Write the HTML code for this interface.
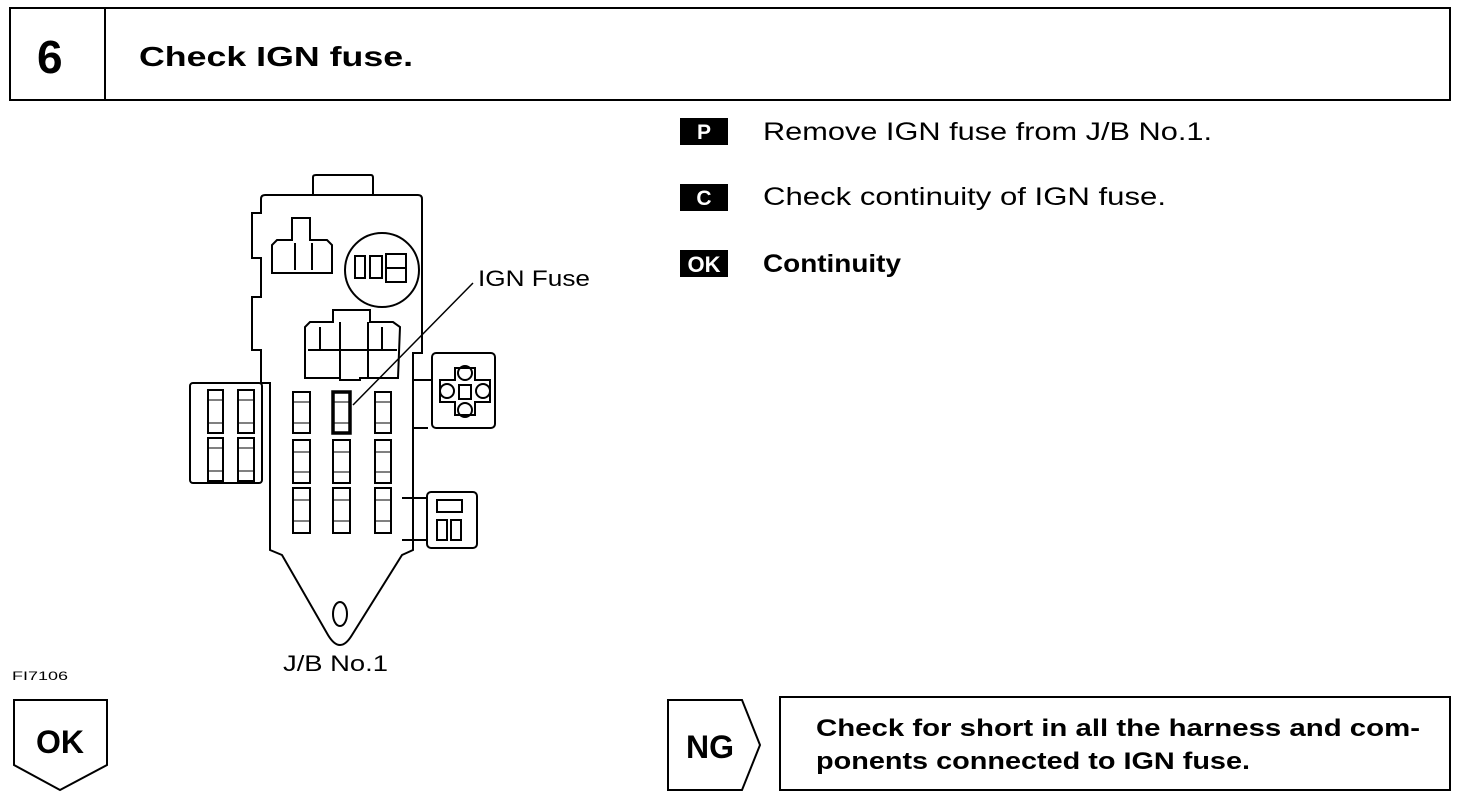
<!DOCTYPE html>
<html><head><meta charset="utf-8"><style>
body{margin:0;background:#fff;}
svg{display:block;font-family:"Liberation Sans",Arial,sans-serif;}
</style></head><body>
<svg width="1472" height="798" viewBox="0 0 1472 798" xmlns="http://www.w3.org/2000/svg">
<g fill="none" stroke="#000" stroke-width="2">
<rect x="10" y="8" width="1440" height="92"/>
<line x1="105" y1="8" x2="105" y2="100"/>
</g>
<text x="37" y="73" font-size="46" font-weight="bold">6</text>
<text x="139" y="66" font-size="28" font-weight="bold" textLength="274" lengthAdjust="spacingAndGlyphs">Check IGN fuse.</text>

<rect x="680" y="118" width="48" height="27" fill="#000"/>
<text x="704" y="139" font-size="21" fill="#fff" text-anchor="middle" font-weight="bold">P</text>
<rect x="680" y="184" width="48" height="27" fill="#000"/>
<text x="704" y="205" font-size="21" fill="#fff" text-anchor="middle" font-weight="bold">C</text>
<rect x="680" y="250" width="48" height="27" fill="#000"/>
<text x="704" y="272" font-size="22" fill="#fff" text-anchor="middle" font-weight="bold">OK</text>
<text x="763" y="140" font-size="25" textLength="449" lengthAdjust="spacingAndGlyphs">Remove IGN fuse from J/B No.1.</text>
<text x="763" y="205" font-size="25" textLength="403" lengthAdjust="spacingAndGlyphs">Check continuity of IGN fuse.</text>
<text x="763" y="272" font-size="25" font-weight="bold" textLength="138" lengthAdjust="spacingAndGlyphs">Continuity</text>

<g fill="none" stroke="#000" stroke-width="2">
<path d="M313,195 L313,177 Q313,175 316,175 L371,175 Q373,175 373,178 L373,195"/>
<path d="M265,195 L418,195 Q422,195 422,199 L422,353 L413,353 L413,550 L402,555 L352,635 Q340,655 328,635 L282,555 L270,550 L270,383 L261,383 L261,350 L252,350 L252,297 L261,297 L261,258 L252,258 L252,213 L261,213 L261,199 Q261,195 265,195 Z"/>
<rect x="190" y="383" width="72" height="100" rx="3"/>
<circle cx="382" cy="270" r="37"/>
<rect x="355" y="256" width="10" height="22"/><rect x="370" y="256" width="12" height="22"/><rect x="386" y="254" width="20" height="28"/>
<line x1="386" y1="268" x2="406" y2="268"/>
<path d="M272,245 L272,273 L332,273 L332,245 L327,240 L310,240 L310,218 L292,218 L292,240 L277,240 Z"/>
<line x1="295" y1="243" x2="295" y2="270"/><line x1="312" y1="243" x2="312" y2="270"/>
<path d="M305,327 L305,378 L340,378 L340,380 L360,380 L360,378 L398,378 L400,327 L393,322 L370,322 L370,310 L333,310 L333,322 L310,322 Z"/>
<line x1="308" y1="350" x2="397" y2="350"/><line x1="340" y1="322" x2="340" y2="378"/><line x1="368" y1="322" x2="368" y2="378"/>
<line x1="320" y1="327" x2="320" y2="350"/><line x1="382" y1="327" x2="382" y2="350"/>
<path d="M413,380 L432,380 M413,428 L428,428"/>
<rect x="432" y="353" width="63" height="75" rx="4"/>
<path d="M455,368 L455,380 L440,380 L440,402 L455,402 L455,415 L475,415 L475,402 L490,402 L490,380 L475,380 L475,368 Z"/>
<circle cx="465" cy="373" r="7"/><circle cx="447" cy="391" r="7"/><circle cx="483" cy="391" r="7"/><circle cx="465" cy="410" r="7"/>
<rect x="459" y="385" width="12" height="14"/>
<path d="M402,498 L427,498 M402,540 L427,540"/>
<rect x="427" y="492" width="50" height="56" rx="4"/>
<rect x="437" y="500" width="25" height="12"/><rect x="437" y="520" width="10" height="20"/><rect x="451" y="520" width="10" height="20"/>
<ellipse cx="340" cy="614" rx="7" ry="12"/>
</g>
<g fill="none" stroke="#000" stroke-width="2">
<rect x="293" y="392" width="17" height="41"/><rect x="293" y="440" width="17" height="43"/><rect x="293" y="488" width="17" height="45"/>
<rect x="333" y="392" width="17" height="41" stroke-width="3.5"/><rect x="333" y="440" width="17" height="43"/><rect x="333" y="488" width="17" height="45"/>
<rect x="375" y="392" width="16" height="41"/><rect x="375" y="440" width="16" height="43"/><rect x="375" y="488" width="16" height="45"/>
<rect x="208" y="390" width="15" height="43"/><rect x="238" y="390" width="16" height="43"/>
<rect x="208" y="438" width="15" height="43"/><rect x="238" y="438" width="16" height="43"/>
</g>
<g stroke="#000" stroke-width="1">
<line x1="293" y1="402" x2="310" y2="402"/><line x1="293" y1="423" x2="310" y2="423"/>
<line x1="333" y1="402" x2="350" y2="402"/><line x1="333" y1="423" x2="350" y2="423"/>
<line x1="375" y1="402" x2="391" y2="402"/><line x1="375" y1="423" x2="391" y2="423"/>
<line x1="293" y1="452" x2="310" y2="452"/><line x1="293" y1="472" x2="310" y2="472"/>
<line x1="333" y1="452" x2="350" y2="452"/><line x1="333" y1="472" x2="350" y2="472"/>
<line x1="375" y1="452" x2="391" y2="452"/><line x1="375" y1="472" x2="391" y2="472"/>
<line x1="293" y1="500" x2="310" y2="500"/><line x1="293" y1="521" x2="310" y2="521"/>
<line x1="333" y1="500" x2="350" y2="500"/><line x1="333" y1="521" x2="350" y2="521"/>
<line x1="375" y1="500" x2="391" y2="500"/><line x1="375" y1="521" x2="391" y2="521"/>
<line x1="208" y1="400" x2="223" y2="400"/><line x1="208" y1="423" x2="223" y2="423"/>
<line x1="238" y1="400" x2="254" y2="400"/><line x1="238" y1="423" x2="254" y2="423"/>
<line x1="208" y1="448" x2="223" y2="448"/><line x1="208" y1="471" x2="223" y2="471"/>
<line x1="238" y1="448" x2="254" y2="448"/><line x1="238" y1="471" x2="254" y2="471"/>
<line x1="353" y1="405" x2="473" y2="283" stroke-width="1.5"/>
</g>
<text x="478" y="286" font-size="22" textLength="112" lengthAdjust="spacingAndGlyphs">IGN Fuse</text>
<text x="283" y="671" font-size="22" textLength="105" lengthAdjust="spacingAndGlyphs">J/B No.1</text>
<text x="12" y="680" font-size="12" textLength="56" lengthAdjust="spacingAndGlyphs">FI7106</text>

<g fill="none" stroke="#000" stroke-width="2">
<path d="M14,700 L107,700 L107,765 L60,790 L14,765 Z"/>
<path d="M668,700 L742,700 L760,745 L742,790 L668,790 Z"/>
<rect x="780" y="697" width="670" height="93"/>
</g>
<text x="60" y="753" font-size="32" font-weight="bold" text-anchor="middle">OK</text>
<text x="710" y="758" font-size="32" font-weight="bold" text-anchor="middle">NG</text>
<text x="816" y="736" font-size="24" font-weight="bold" textLength="604" lengthAdjust="spacingAndGlyphs">Check for short in all the harness and com-</text>
<text x="816" y="769" font-size="24" font-weight="bold" textLength="434" lengthAdjust="spacingAndGlyphs">ponents connected to IGN fuse.</text>
</svg>
</body></html>
